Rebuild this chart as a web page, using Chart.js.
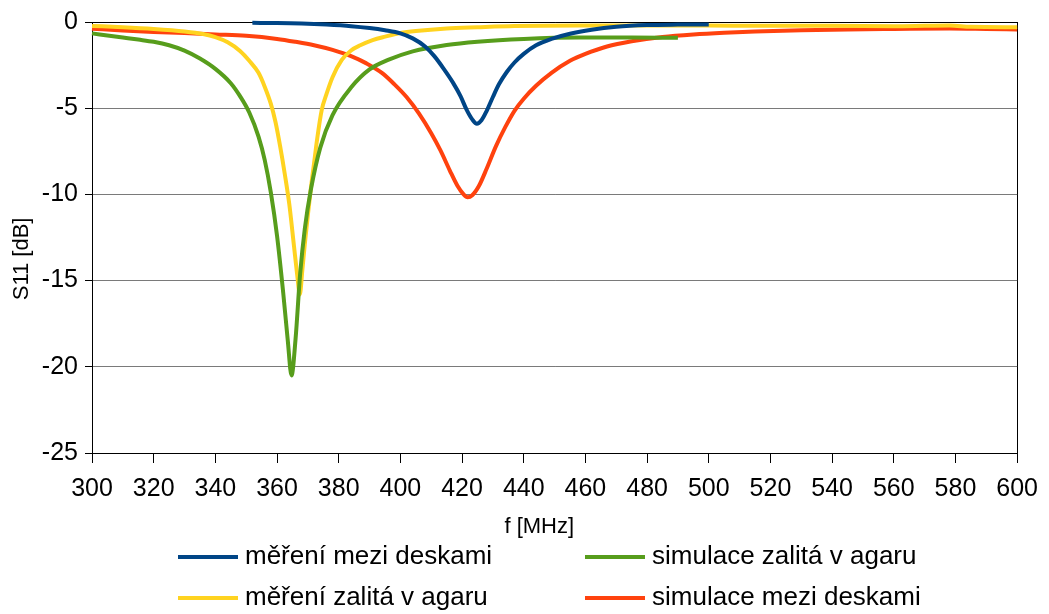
<!DOCTYPE html>
<html>
<head>
<meta charset="utf-8">
<script src="https://cdn.jsdelivr.net/npm/chart.js@4/dist/chart.umd.min.js"></script>
<style>
  html, body { margin: 0; padding: 0; background: #fff; }
  #wrap { width: 1049px; height: 614px; position: relative; }
</style>
</head>
<body>
<div id="wrap"><canvas id="c" width="1049" height="614"></canvas></div>
<script>
// ---- data ----
const seriesNames = ["měření mezi deskami", "simulace zalitá v agaru", "měření zalitá v agaru", "simulace mezi deskami"];
const seriesColors = ["#004586", "#579d1c", "#ffd320", "#ff420e"];

const xTickMin = 300, xTickMax = 600, xTickStep = 20;
const yTickMin = -25, yTickMax = 0, yTickStep = 5;
const xTitle = "f [MHz]";
const yTitle = "S11 [dB]";

// měření mezi deskami
const fMereniDesky = [352, 360, 368, 376, 384, 390, 395, 400, 404, 408, 411, 414, 417, 419.5, 421.5, 423.3, 424.8, 426.3, 428, 430, 432, 434.5, 437, 440, 444, 449, 455, 462, 470, 480, 490, 500];
const sMereniDesky = [-0.05, -0.06, -0.09, -0.15, -0.24, -0.35, -0.48, -0.66, -0.95, -1.42, -1.98, -2.7, -3.5, -4.3, -5.1, -5.65, -5.9, -5.7, -5.15, -4.35, -3.6, -2.9, -2.35, -1.85, -1.35, -0.98, -0.68, -0.45, -0.28, -0.18, -0.15, -0.14];

// simulace zalitá v agaru
const fSimAgar = [300, 305, 310, 315, 320, 325, 330, 335, 340, 345, 348, 351, 354, 356, 358, 360, 362, 363.5, 364.7, 366, 367.5, 369, 371, 374, 378, 384, 390, 396, 404, 415, 425, 440, 458, 475, 490];
const sSimAgar = [-0.66, -0.78, -0.9, -1.02, -1.15, -1.35, -1.66, -2.12, -2.72, -3.55, -4.3, -5.25, -6.65, -8.0, -9.9, -12.4, -15.7, -18.5, -20.5, -18.4, -14.6, -12.0, -9.7, -7.3, -5.4, -3.8, -2.75, -2.2, -1.7, -1.33, -1.14, -0.98, -0.9, -0.9, -0.92];

// měření zalitá v agaru
const fMereniAgar = [300, 310, 320, 330, 336, 340, 344, 348, 351, 354, 356, 358, 359.5, 361, 362.5, 364, 365.5, 366.5, 367.4, 368.2, 369, 370, 371, 372, 373, 374.5, 376, 378, 381, 384, 387, 391, 395, 400, 405, 415, 425, 437, 458, 480, 500, 520, 540, 560, 570, 578, 585, 600];
const sMereniAgar = [-0.23, -0.3, -0.4, -0.55, -0.7, -0.88, -1.18, -1.68, -2.25, -2.95, -3.75, -4.75, -5.8, -7.2, -8.8, -10.6, -13.0, -14.6, -15.8, -14.4, -12.9, -11.2, -9.6, -8.2, -6.8, -5.1, -4.2, -3.2, -2.2, -1.65, -1.35, -1.05, -0.85, -0.64, -0.52, -0.37, -0.3, -0.23, -0.2, -0.2, -0.21, -0.22, -0.22, -0.24, -0.22, -0.2, -0.28, -0.3];

// simulace mezi deskami
const fSimDesky = [300, 310, 320, 330, 340, 350, 360, 366, 372, 378, 384, 389, 394, 398, 402, 406, 410, 413, 416, 418.5, 420.5, 421.8, 423.3, 425.5, 428, 431, 434, 437, 440, 444, 449, 455, 460, 467, 475, 485, 495, 505, 515, 530, 545, 560, 578, 590, 600];
const sSimDesky = [-0.39, -0.5, -0.58, -0.64, -0.72, -0.8, -0.98, -1.15, -1.35, -1.62, -1.98, -2.4, -2.95, -3.6, -4.35, -5.3, -6.45, -7.45, -8.6, -9.5, -10.0, -10.17, -10.05, -9.5, -8.5, -7.2, -6.1, -5.15, -4.45, -3.7, -2.95, -2.25, -1.85, -1.42, -1.12, -0.87, -0.72, -0.62, -0.55, -0.48, -0.43, -0.4, -0.37, -0.4, -0.43];

const seriesX = [fMereniDesky, fSimAgar, fMereniAgar, fSimDesky];
const seriesY = [sMereniDesky, sSimAgar, sMereniAgar, sSimDesky];

// ---- chart ----
Chart.defaults.font.family = "'Liberation Sans', Arial, sans-serif";
Chart.defaults.color = "#000";

const datasets = seriesNames.map((name, i) => ({
  label: name,
  data: seriesX[i].map((f, k) => ({ x: f, y: seriesY[i][k] })),
  borderColor: seriesColors[i],
  backgroundColor: seriesColors[i],
  borderWidth: 4,
  pointRadius: 0,
  cubicInterpolationMode: 'monotone',
  fill: false,
  clip: 4
}));

const legendPlugin = {
  id: 'gridLegend',
  afterDraw(chart) {
    const ctx = chart.ctx;
    const colX = [178, 585];
    const rowY = [557, 598];
    ctx.save();
    ctx.font = "26px 'Liberation Sans', Arial, sans-serif";
    ctx.textBaseline = 'middle';
    ctx.textAlign = 'left';
    chart.data.datasets.forEach((ds, i) => {
      const cx = colX[i % 2];
      const cy = rowY[Math.floor(i / 2)];
      ctx.strokeStyle = ds.borderColor;
      ctx.lineWidth = 4;
      ctx.beginPath();
      ctx.moveTo(cx, cy);
      ctx.lineTo(cx + 60, cy);
      ctx.stroke();
      ctx.fillStyle = '#000';
      ctx.fillText(ds.label, cx + 67, cy);
    });
    ctx.restore();
  }
};

new Chart(document.getElementById('c'), {
  type: 'line',
  data: { datasets },
  options: {
    responsive: false,
    animation: false,
    layout: { padding: { left: 0, right: 31, top: 19, bottom: 71 } },
    plugins: {
      legend: { display: false },
      tooltip: { enabled: false }
    },
    scales: {
      x: {
        type: 'linear',
        min: xTickMin, max: xTickMax,
        ticks: { stepSize: xTickStep, font: { size: 25 }, padding: 11, maxRotation: 0, color: '#000' },
        grid: {
          color: (c) => (c.tick && c.tick.value === xTickMax) ? '#000' : 'rgba(0,0,0,0)',
          tickColor: '#000',
          tickLength: 10,
          lineWidth: 1
        },
        border: { color: '#000', width: 1 },
        title: { display: true, text: xTitle + "     ", font: { size: 22 }, padding: { top: 0, bottom: 3 }, color: '#000' },
        afterFit: (s) => { s.height = 90; }
      },
      y: {
        type: 'linear',
        min: yTickMin, max: yTickMax,
        ticks: { stepSize: yTickStep, font: { size: 25 }, padding: 7, color: '#000' },
        grid: {
          color: (c) => (c.tick && (c.tick.value === yTickMax || c.tick.value === yTickMin)) ? '#000' : '#7a7a7a',
          tickColor: '#000',
          tickLength: 7,
          lineWidth: 1
        },
        border: { color: '#000', width: 1 },
        title: { display: true, text: yTitle + "       ", font: { size: 22 }, padding: { top: 9, bottom: 0 }, color: '#000' },
        afterFit: (s) => { s.width = 92; }
      }
    }
  },
  plugins: [legendPlugin]
});
</script>
</body>
</html>
